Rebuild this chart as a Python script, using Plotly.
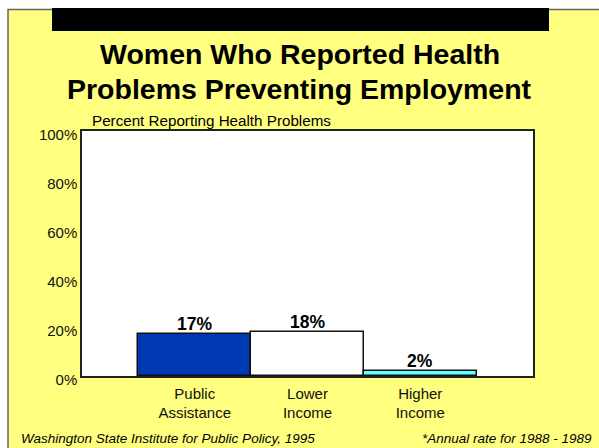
import plotly.graph_objects as go

# Chart data
categories = ["Public<br>Assistance", "Lower<br>Income", "Higher<br>Income"]
values = [17, 18, 2]
value_labels = ["17%", "18%", "2%"]
bar_colors = ["#0039B4", "#FFFFFF", "#66FFFF"]
y_ticks = [0, 20, 40, 60, 80, 100]
y_tick_labels = ["0%", "20%", "40%", "60%", "80%", "100%"]

W, H = 599, 448
L, R, T, B = 82, 533, 131, 376  # plot area in pixels


def px(x):
    return (x - L) / (R - L)


def py(y):
    return (B - y) / (B - T)


FONT = "Liberation Sans, Arial, sans-serif"

fig = go.Figure()
fig.add_trace(go.Bar(
    x=categories,
    y=values,
    width=1,
    marker=dict(color=bar_colors, line=dict(color="#111111", width=1.5)),
    hoverinfo="skip",
))

shapes = [
    # yellow slide frame
    dict(type="rect", xref="paper", yref="paper", layer="below",
         x0=px(8), x1=px(W + 10), y0=py(H + 10), y1=py(9.5),
         fillcolor="#FFFF80", line=dict(color="#666666", width=1.5)),
    # white plotting panel
    dict(type="rect", xref="paper", yref="paper", layer="below",
         x0=0, x1=1, y0=0, y1=1, fillcolor="#FFFFFF", line=dict(width=0)),
    # black header band
    dict(type="rect", xref="paper", yref="paper", layer="above",
         x0=px(52), x1=px(549), y0=py(31), y1=py(8),
         fillcolor="#000000", line=dict(width=0)),
]

annotations = [
    dict(text="<b>Women Who Reported Health</b>", xref="paper", yref="paper",
         x=px(299.5), y=py(54), xanchor="center", yanchor="middle", showarrow=False,
         font=dict(family=FONT, size=28.5, color="#000000")),
    dict(text="<b>Problems Preventing Employment</b>", xref="paper", yref="paper",
         x=px(299.5), y=py(89), xanchor="center", yanchor="middle", showarrow=False,
         font=dict(family=FONT, size=28.5, color="#000000")),
    dict(text="Percent Reporting Health Problems", xref="paper", yref="paper",
         x=px(90), y=py(120.5), xanchor="left", yanchor="middle", showarrow=False,
         font=dict(family=FONT, size=15.2, color="#000000")),
    dict(text="<i>Washington State Institute for Public Policy, 1995</i>", xref="paper", yref="paper",
         x=px(19), y=py(438), xanchor="left", yanchor="middle", showarrow=False,
         font=dict(family=FONT, size=13.5, color="#000000")),
    dict(text="<i>*Annual rate for 1988 - 1989</i>", xref="paper", yref="paper",
         x=px(594), y=py(438), xanchor="right", yanchor="middle", showarrow=False,
         font=dict(family=FONT, size=13.5, color="#000000")),
]

# value labels sitting just above each bar
for cat, val, lab in zip(categories, values, value_labels):
    annotations.append(dict(
        text=f"<b>{lab}</b>", x=cat, y=val, xref="x", yref="y",
        xanchor="center", yanchor="bottom", yshift=-2, showarrow=False,
        font=dict(family=FONT, size=17.5, color="#000000"),
    ))

fig.update_layout(
    width=W, height=H,
    margin=dict(l=L, r=W - R, t=T, b=H - B, pad=0),
    paper_bgcolor="#FFFFFF",
    plot_bgcolor="rgba(0,0,0,0)",
    showlegend=False,
    bargap=0,
    shapes=shapes,
    annotations=annotations,
    font=dict(family=FONT, size=15, color="#000000"),
)
fig.update_xaxes(
    type="category", range=[-1, 3], showgrid=False, ticks="",
    showline=True, linecolor="#222222", linewidth=1.5, mirror=True,
    ticklabelstandoff=3,
    tickfont=dict(family=FONT, size=15, color="#111111"),
)
fig.update_yaxes(
    range=[0, 100], tickvals=y_ticks, ticktext=y_tick_labels, showgrid=False,
    ticks="", zeroline=False,
    showline=True, linecolor="#222222", linewidth=1.5, mirror=True,
    ticklabelshift=4,
    tickfont=dict(family=FONT, size=15, color="#111111"),
)

fig.write_html("out.html")
